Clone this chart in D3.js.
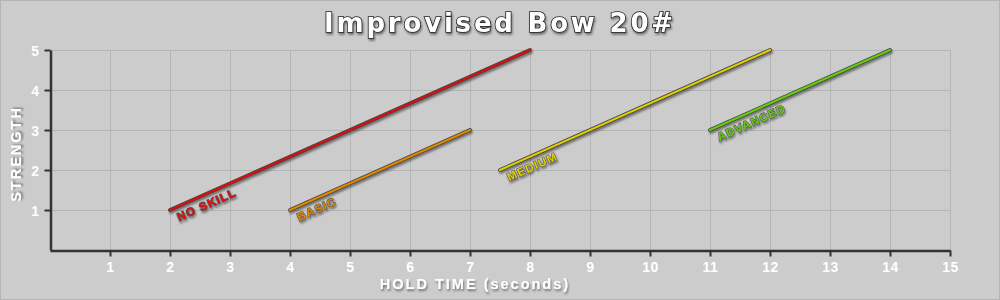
<!DOCTYPE html>
<html>
<head>
<meta charset="utf-8">
<script src="https://cdn.jsdelivr.net/npm/d3@7"></script>
<style>
  body { margin: 0; background: #cccccc; }
  svg { display: block; }
  text { font-family: "Liberation Sans", Arial, sans-serif; font-weight: bold; }
</style>
</head>
<body>
<svg width="1000" height="300"></svg>
<script>
// skill levels and their bow draw lines
var levels = ["NO SKILL", "BASIC", "MEDIUM", "ADVANCED"];
var startTime = [2, 4, 7.5, 11];
var startStrength = [1, 1, 2, 3];
var endTime = [8, 7, 12, 14];
var endStrength = [5, 3, 5, 5];
var levelColors = ["#dd1111", "#e08800", "#e0d000", "#66cc11"];

var xTicks = [1, 2, 3, 4, 5, 6, 7, 8, 9, 10, 11, 12, 13, 14, 15];
var yTicks = [1, 2, 3, 4, 5];

var svg = d3.select("svg"),
  width = +svg.attr("width"),
  height = +svg.attr("height");

var margin = {left: 50, right: 50, top: 50, bottom: 50};

var x = d3.scaleLinear().domain([0, 15]).range([margin.left, width - margin.right]);
var y = d3.scaleLinear().domain([0, 5]).range([height - margin.bottom, margin.top]);

var defs = svg.append("defs");
defs.append("filter")
  .attr("id", "shadow")
  .attr("x", "-20%").attr("y", "-20%").attr("width", "140%").attr("height", "160%")
  .append("feDropShadow")
  .attr("dx", 1).attr("dy", 2).attr("stdDeviation", 1.2)
  .attr("flood-color", "#000").attr("flood-opacity", 0.45);

// background + frame
svg.append("rect")
  .attr("x", 0.5).attr("y", 0.5)
  .attr("width", width - 1).attr("height", height - 1)
  .attr("fill", "#cccccc")
  .attr("stroke", "#b4b4b4");

// grid
var grid = svg.append("g").attr("stroke", "#b5b5b5").attr("stroke-width", 1);
grid.selectAll(".vx")
  .data(xTicks)
  .enter().append("line")
  .attr("x1", function(d) { return Math.round(x(d)) + 0.5; })
  .attr("x2", function(d) { return Math.round(x(d)) + 0.5; })
  .attr("y1", y(5))
  .attr("y2", y(0));
grid.selectAll(".hy")
  .data(yTicks)
  .enter().append("line")
  .attr("x1", x(0))
  .attr("x2", x(15))
  .attr("y1", function(d) { return Math.round(y(d)) + 0.5; })
  .attr("y2", function(d) { return Math.round(y(d)) + 0.5; });

// axes
var xAxis = svg.append("g")
  .attr("transform", "translate(0," + (y(0) + 0.5) + ")")
  .call(d3.axisBottom(x).tickValues(xTicks).tickFormat(d3.format("d"))
    .tickSize(6).tickSizeOuter(0).tickPadding(6));
var yAxis = svg.append("g")
  .attr("transform", "translate(" + (x(0) + 0.5) + ",0)")
  .call(d3.axisLeft(y).tickValues(yTicks).tickFormat(d3.format("d"))
    .tickSize(6).tickSizeOuter(0).tickPadding(5));

[xAxis, yAxis].forEach(function(ax) {
  ax.select(".domain").attr("stroke", "#333").attr("stroke-width", 2.5);
  ax.selectAll(".tick line").attr("stroke", "#333").attr("stroke-width", 2);
  ax.selectAll(".tick text")
    .attr("fill", "#ffffff")
    .style("font-size", "14px")
    .style("letter-spacing", "0.5px")
    .style("font-family", "'Liberation Sans', Arial, sans-serif")
    .style("font-weight", "bold");
});
yAxis.selectAll(".tick text").attr("dy", "0.36em");

// titles
svg.append("text")
  .attr("x", width / 2)
  .attr("y", 32)
  .attr("text-anchor", "middle")
  .attr("fill", "#ffffff")
  .attr("stroke", "#222")
  .attr("stroke-width", 1.6)
  .attr("paint-order", "stroke")
  .attr("filter", "url(#shadow)")
  .style("font-family", "'DejaVu Sans', sans-serif")
  .style("font-size", "26px")
  .style("letter-spacing", "2.8px")
  .text("Improvised Bow 20#");

svg.append("text")
  .attr("x", 475)
  .attr("y", 289)
  .attr("text-anchor", "middle")
  .attr("fill", "#ffffff")
  .attr("filter", "url(#shadow)")
  .style("font-size", "14.5px")
  .style("letter-spacing", "2px")
  .text("HOLD TIME (seconds)");

svg.append("text")
  .attr("transform", "translate(21," + y(2.4) + ") rotate(-90)")
  .attr("text-anchor", "middle")
  .attr("fill", "#ffffff")
  .attr("filter", "url(#shadow)")
  .style("font-size", "14.5px")
  .style("letter-spacing", "2px")
  .text("STRENGTH");

// skill lines
var skills = levels.map(function(name, i) {
  return {
    name: name,
    x0: startTime[i], y0: startStrength[i],
    x1: endTime[i], y1: endStrength[i],
    color: levelColors[i]
  };
});

var lineG = svg.append("g")
  .selectAll("g")
  .data(skills)
  .enter().append("g")
  .attr("filter", "url(#shadow)");

lineG.append("line")
  .attr("x1", function(d) { return x(d.x0); })
  .attr("y1", function(d) { return y(d.y0); })
  .attr("x2", function(d) { return x(d.x1); })
  .attr("y2", function(d) { return y(d.y1); })
  .attr("stroke", "#444")
  .attr("stroke-width", 3.8)
  .attr("stroke-linecap", "round");

lineG.append("line")
  .attr("x1", function(d) { return x(d.x0); })
  .attr("y1", function(d) { return y(d.y0); })
  .attr("x2", function(d) { return x(d.x1); })
  .attr("y2", function(d) { return y(d.y1); })
  .attr("stroke", function(d) { return d.color; })
  .attr("stroke-width", 2.2)
  .attr("stroke-linecap", "round");

lineG.append("text")
  .attr("transform", function(d) {
    var ang = Math.atan2(y(d.y1) - y(d.y0), x(d.x1) - x(d.x0)) * 180 / Math.PI;
    return "translate(" + x(d.x0) + "," + y(d.y0) + ") rotate(" + ang + ")";
  })
  .attr("x", 4)
  .attr("y", 14)
  .attr("fill", function(d) { return d.color; })
  .attr("stroke", "#555")
  .attr("stroke-width", 1.2)
  .attr("paint-order", "stroke")
  .style("font-size", "11.5px")
  .style("letter-spacing", "1.2px")
  .text(function(d) { return d.name; });
</script>
</body>
</html>
